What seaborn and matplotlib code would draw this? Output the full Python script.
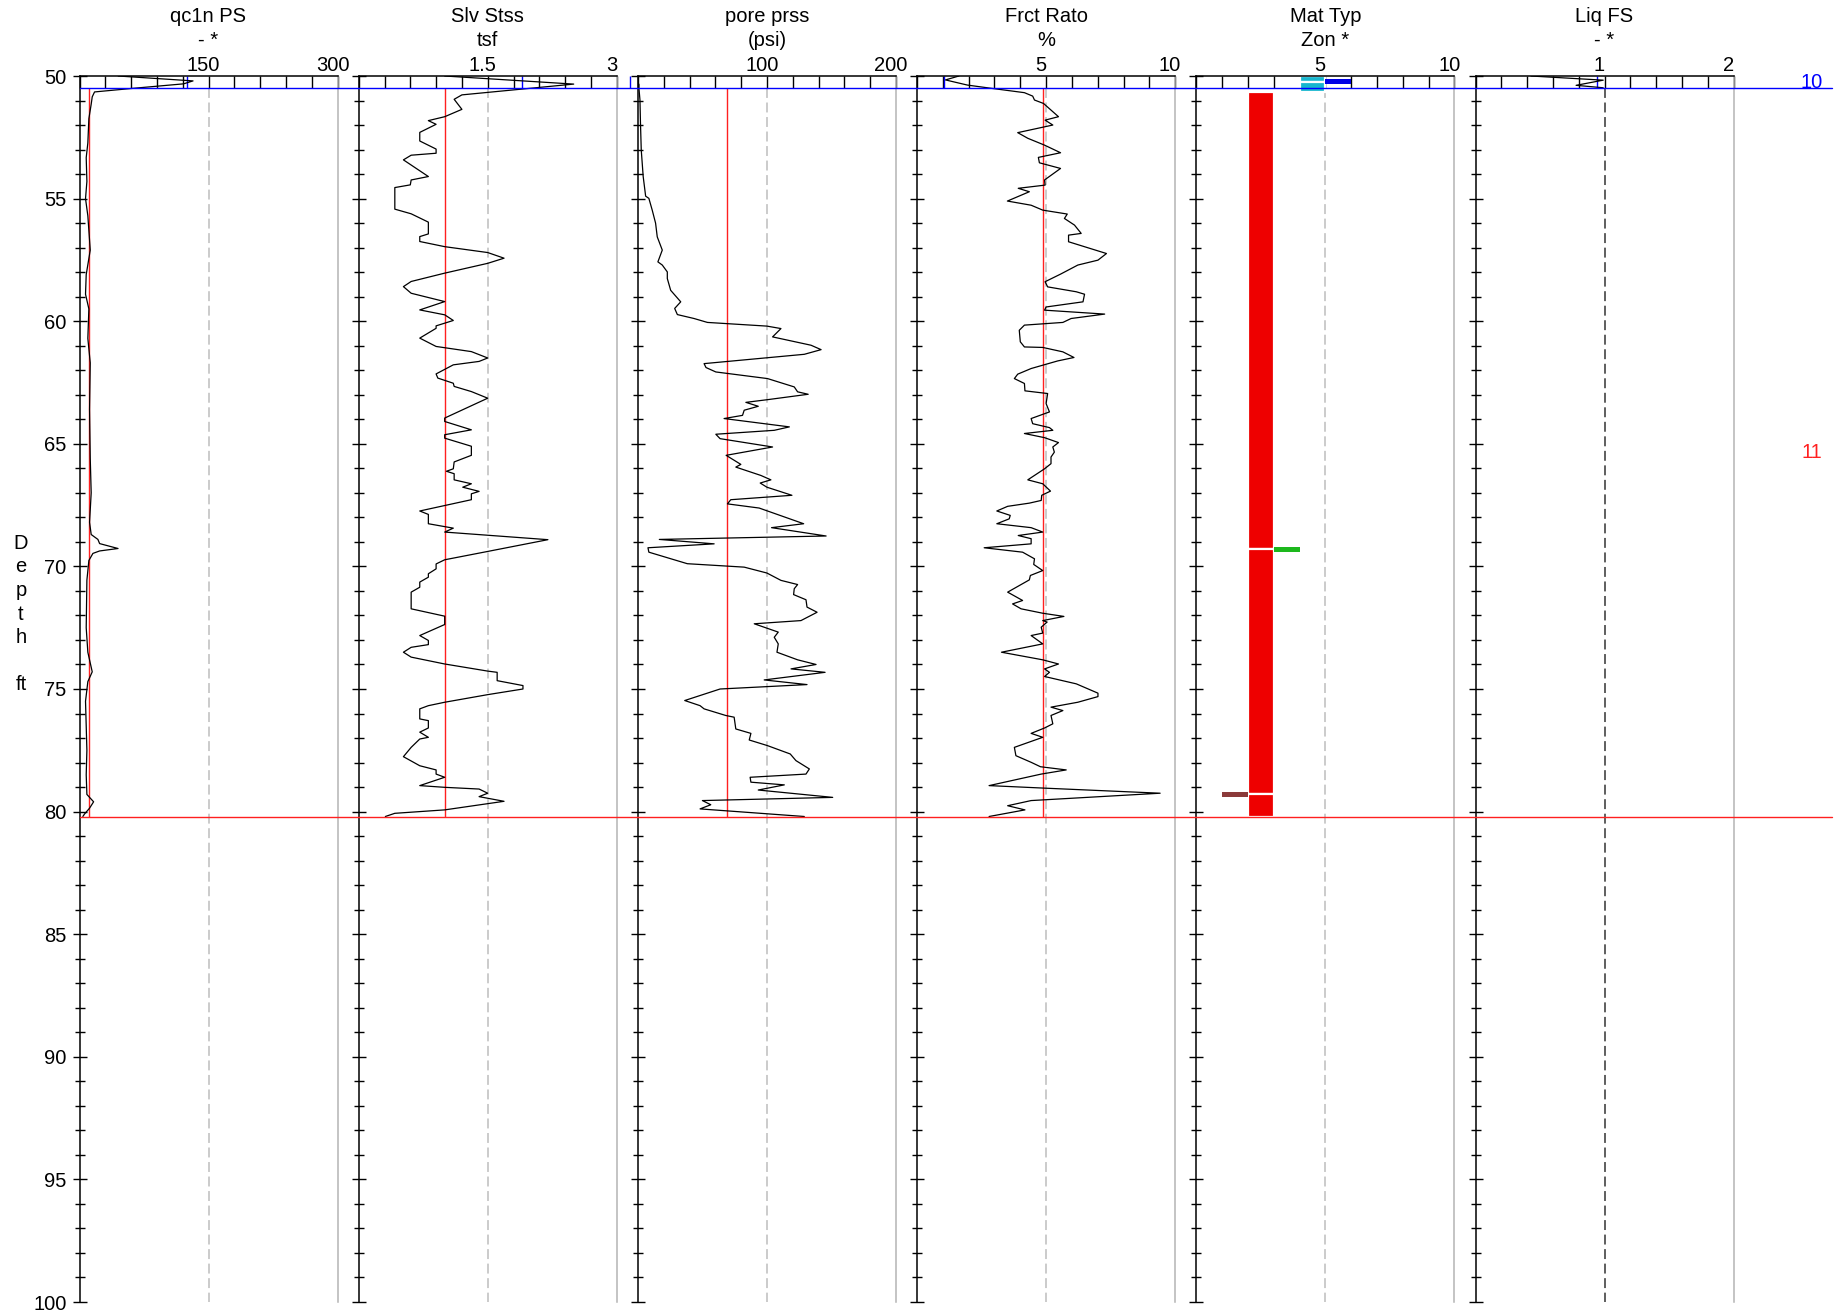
import numpy as np
import pandas as pd
import matplotlib
matplotlib.use("Agg")
import matplotlib.pyplot as plt
import seaborn as sns
from matplotlib.lines import Line2D
from matplotlib.transforms import ScaledTranslation, blended_transform_factory

# ---------------- data ----------------
titles = ["qc1n PS", "Slv Stss", "pore prss", "Frct Rato", "Mat Typ", "Liq FS"]
units = ["- *", "tsf", "(psi)", "%", "Zon *", "- *"]
x_max = [300, 3, 200, 10, 10, 2]
mid_labels = ["150", "1.5", "100", "5", "5", "1"]
max_labels = ["300", "3", "200", "10", "10", "2"]

# (depth ft, value)
qc1n = [(50.0, 45), (50.2, 132), (50.32, 121), (50.51, 60), (50.65, 17.5), (50.85, 14.8),
        (51.15, 13.6), (51.74, 10.9), (52.73, 9.7), (53.33, 7.8), (54.3, 8.6), (55.0, 7.0),
        (55.7, 9.7), (57.1, 12.5), (58.1, 7.8), (58.9, 7.0), (59.5, 10.9), (60.7, 9.7),
        (61.7, 12.5), (63.6, 11.7), (65.6, 12.5), (67.0, 13.6), (68.2, 11.7), (68.7, 13.6),
        (68.9, 21.4), (69.07, 23.4), (69.27, 44.8), (69.37, 23.4), (69.47, 15.6), (69.76, 10.9),
        (70.56, 8.6), (72.5, 7.8), (73.5, 9.7), (74.3, 14.8), (74.7, 9.7), (75.5, 7.0),
        (77.5, 8.6), (78.5, 7.8), (79.3, 8.6), (79.6, 16.4), (79.86, 11.7), (80.1, 5.8), (80.2, 3.9)]

slv = [(50.0, 1.0), (50.33, 2.5), (50.77, 1.2), (50.95, 1.11), (51.36, 1.2), (51.66, 1.0),
       (51.82, 0.81), (51.97, 0.9), (52.3, 0.71), (52.65, 0.71), (52.98, 0.9), (53.15, 0.9),
       (53.23, 0.61), (53.42, 0.52), (54.1, 0.81), (54.24, 0.61), (54.44, 0.6), (54.55, 0.42),
       (55.43, 0.42), (55.62, 0.61), (55.96, 0.81), (56.44, 0.81), (56.55, 0.71), (56.75, 0.71),
       (56.96, 1.0), (57.2, 1.5), (57.43, 1.69), (57.64, 1.5), (58.04, 1.0), (58.38, 0.61),
       (58.59, 0.52), (58.86, 0.61), (59.2, 1.0), (59.54, 0.71), (59.74, 1.0), (59.97, 1.1),
       (60.19, 0.9), (60.29, 0.9), (60.69, 0.71), (61.03, 0.9), (61.24, 1.31), (61.5, 1.5),
       (61.64, 1.4), (61.78, 1.1), (62.15, 0.9), (62.32, 0.92), (62.53, 1.1), (62.66, 1.11),
       (62.87, 1.31), (63.14, 1.5), (63.95, 1.0), (64.09, 1.0), (64.43, 1.31), (64.63, 1.0),
       (64.77, 1.0), (65.1, 1.31), (65.47, 1.31), (65.74, 1.11), (66.02, 1.1), (66.12, 1.02),
       (66.22, 1.11), (66.47, 1.11), (66.63, 1.31), (66.77, 1.21), (66.94, 1.4), (67.04, 1.31),
       (67.28, 1.31), (67.74, 0.71), (67.88, 0.81), (68.26, 0.81), (68.44, 1.1), (68.6, 1.0),
       (68.91, 2.2), (69.39, 1.5), (69.73, 1.0), (69.9, 0.9), (70.1, 0.9), (70.3, 0.81),
       (70.44, 0.81), (70.64, 0.71), (70.85, 0.71), (71.05, 0.61), (71.73, 0.61), (72.03, 1.0),
       (72.37, 1.0), (72.82, 0.71), (73.02, 0.81), (73.19, 0.81), (73.3, 0.61), (73.5, 0.52),
       (73.7, 0.61), (73.98, 1.0), (74.27, 1.5), (74.32, 1.61), (74.66, 1.61), (74.86, 1.91),
       (75.0, 1.91), (75.23, 1.5), (75.54, 1.0), (75.68, 0.81), (75.81, 0.71), (76.22, 0.71),
       (76.29, 0.81), (76.59, 0.81), (76.76, 0.71), (76.97, 0.81), (77.04, 0.71), (77.38, 0.61),
       (77.76, 0.52), (78.13, 0.71), (78.3, 0.9), (78.47, 0.9), (78.6, 1.0), (78.94, 0.71),
       (79.01, 1.0), (79.08, 1.4), (79.25, 1.5), (79.39, 1.4), (79.58, 1.69), (79.93, 1.0),
       (80.07, 0.42), (80.2, 0.31)]

pore = [(50.0, 0.5), (50.2, -0.5), (50.35, 0.8), (50.5, 0.8), (50.98, 1.6), (51.93, 2.0),
        (53.02, 2.6), (54.1, 4.1), (54.9, 6.0), (54.99, 8.5), (55.47, 11.1), (56.0, 13.7),
        (56.56, 15.0), (57.1, 18.9), (57.58, 15.5), (57.71, 18.9), (57.99, 22.8), (58.26, 22.8),
        (58.74, 25.4), (59.21, 33.2), (59.48, 28.5), (59.73, 30.6), (59.89, 43.5), (60.05, 53.9),
        (60.2, 100), (60.3, 110.9), (60.64, 104.4), (60.98, 134.2), (61.16, 142), (61.35, 129),
        (61.73, 51.3), (61.89, 52.8), (62.07, 60.4), (62.34, 100.5), (62.68, 121.2), (62.88, 123.8),
        (62.98, 132), (63.2, 100.5), (63.31, 83.7), (63.47, 93.3), (63.63, 82.4), (63.84, 81.1),
        (63.97, 66.8), (64.31, 117.4), (64.45, 105.7), (64.61, 60.4), (64.79, 63.7), (65.13, 104.4),
        (65.47, 68.4), (65.84, 79.8), (65.95, 75.9), (66.29, 95.3), (66.47, 103.1), (66.6, 94.8),
        (66.77, 100), (67.1, 119.4), (67.28, 72), (67.45, 69.4), (67.62, 94), (68.26, 128.5),
        (68.42, 103.6), (68.76, 145.9), (68.9, 16.6), (69.08, 59.1), (69.24, 7.8), (69.42, 8.5),
        (69.89, 38.3), (70.03, 82.4), (70.27, 100), (70.57, 110.9), (70.74, 123.8), (70.91, 121.2),
        (71.15, 120.7), (71.36, 130.3), (71.66, 131.1), (71.87, 138.9), (72.21, 126.4), (72.34, 90.2),
        (72.68, 108.8), (72.89, 105.7), (73.16, 108.8), (73.5, 107.8), (73.81, 123.8), (74.0, 138.1),
        (74.18, 118.7), (74.32, 145.1), (74.63, 97.9), (74.82, 131.1), (75.0, 63.7), (75.47, 36.3),
        (75.68, 48.2), (75.81, 51.3), (76.08, 68.1), (76.15, 74.6), (76.63, 75.9), (76.81, 87.6),
        (77.08, 86.3), (77.31, 100.5), (77.65, 118.1), (77.92, 122.5), (78.26, 132.9), (78.47, 130.3),
        (78.6, 87), (78.8, 87.6), (78.91, 113.5), (79.12, 93.3), (79.42, 151), (79.55, 50),
        (79.72, 56.5), (79.89, 48.2), (80.2, 129)]

frct = [(50.0, 1.62), (50.16, 1.1), (50.37, 1.95), (50.5, 2.86), (50.68, 4.16), (50.82, 4.48),
        (50.98, 4.55), (51.12, 4.9), (51.66, 5.48), (51.8, 4.96), (52.0, 5.26), (52.31, 3.9),
        (52.54, 4.29), (52.82, 4.94), (53.13, 5.56), (53.32, 4.7), (53.54, 4.74), (53.77, 5.56),
        (54.24, 4.94), (54.45, 4.96), (54.58, 3.92), (54.72, 4.35), (55.1, 3.5), (55.27, 4.42),
        (55.47, 4.87), (55.63, 5.82), (55.81, 5.71), (56.08, 6.1), (56.42, 6.36), (56.49, 5.87),
        (56.76, 5.87), (57.24, 7.34), (57.51, 7.01), (57.71, 6.23), (58.08, 5.56), (58.39, 4.96),
        (58.6, 5.06), (58.8, 6.17), (58.9, 6.49), (59.21, 6.43), (59.42, 5.0), (59.55, 4.94),
        (59.71, 7.27), (59.89, 5.97), (60.05, 5.65), (60.16, 4.16), (60.37, 3.96), (60.84, 4.0),
        (61.05, 4.16), (61.07, 4.87), (61.25, 5.65), (61.48, 6.08), (61.62, 5.45), (61.93, 4.42),
        (62.16, 3.9), (62.34, 3.77), (62.54, 4.16), (62.84, 4.18), (62.95, 5.06), (63.36, 5.0),
        (63.7, 5.13), (63.97, 4.42), (64.18, 4.48), (64.34, 5.13), (64.45, 5.26), (64.58, 4.16),
        (64.75, 4.94), (64.95, 5.48), (65.13, 5.26), (65.34, 5.32), (65.54, 5.19), (65.81, 5.19),
        (66.02, 4.94), (66.47, 4.29), (66.63, 4.87), (66.93, 5.17), (67.1, 4.83), (67.31, 4.81),
        (67.42, 4.35), (67.55, 3.51), (67.74, 3.09), (67.92, 3.61), (68.06, 3.57), (68.26, 3.09),
        (68.42, 4.42), (68.6, 4.87), (68.74, 3.92), (68.87, 4.42), (69.08, 4.42), (69.24, 2.6),
        (69.42, 4.09), (69.69, 4.55), (69.92, 4.52), (70.17, 4.87), (70.37, 4.39), (70.55, 4.35),
        (70.74, 4.03), (71.05, 3.51), (71.39, 4.09), (71.53, 3.7), (71.73, 4.03), (71.91, 4.87),
        (72.04, 5.69), (72.21, 4.87), (72.27, 5.04), (72.48, 4.81), (72.72, 4.87), (72.82, 4.42),
        (73.16, 4.87), (73.5, 3.27), (73.81, 4.87), (73.98, 5.48), (74.18, 4.94), (74.32, 5.13),
        (74.49, 4.94), (74.79, 6.17), (75.17, 7.01), (75.31, 7.01), (75.54, 6.23), (75.74, 5.19),
        (75.88, 5.65), (76.08, 5.19), (76.42, 5.26), (76.59, 4.94), (76.81, 4.42), (76.97, 4.87),
        (77.38, 3.77), (77.72, 3.83), (77.99, 4.42), (78.17, 4.78), (78.3, 5.78), (78.47, 4.81),
        (78.94, 2.79), (79.04, 4.87), (79.25, 9.42), (79.55, 4.42), (79.76, 3.51), (79.93, 4.18),
        (80.2, 2.79)]

liq_fs = [(50.0, 0.43), (50.17, 0.99), (50.38, 0.78), (50.48, 0.99)]

# soil behaviour zones: (top, bottom, zone)
zone_layers = [(50.0, 50.23, 5), (50.23, 50.65, 5), (50.65, 69.3, 3), (69.3, 79.3, 3), (79.3, 80.2, 3)]
# thin zone marks: (depth, zone)
zone_marks = [(50.23, 6), (69.3, 4), (79.3, 2)]
zone_colors = {2: "#8B3A3A", 3: "#EE0000", 4: "#1DB81D", 5: "#17B6CE", 6: "#0000E6"}

# layers
layer_names = ["10", "11"]
layer_tops = [50.0, 50.5]
layer_bots = [50.5, 80.2]
layer_colors = ["#0000FF", "#FF2020"]
# per-panel layer averages (None: not drawn)
layer_avgs = [[125, 10.5], [1.9, 1.0], [-6, 69], [1.06, 4.88], [None, None], [0.94, None]]

curves = [qc1n, slv, pore, frct, None, liq_fs]

# ---------------- figure ----------------
sns.set_theme(style="white", rc={"text.color": "black", "xtick.color": "black",
                                 "ytick.color": "black", "axes.edgecolor": "black"})
plt.rcParams["font.family"] = ["Liberation Sans", "DejaVu Sans"]

W, H = 1843, 1312
fig = plt.figure(figsize=(W / 100, H / 100), dpi=100)
left0, pitch, pw = 79.5, 279.2, 258.0
top_px, bot_px = 76.0, 1302.0
ah = bot_px - top_px
FS = 14.5

axes = []
for i in range(6):
    ax = fig.add_axes([(left0 + pitch * i) / W, 1 - bot_px / H, pw / W, ah / H])
    axes.append(ax)
    xm = x_max[i]
    ax.set_facecolor("white")

    # mid dashed line
    ax.vlines(xm / 2, 50.5, 100, colors=("#333333" if i == 5 else "#BDBDBD"),
              linestyles=(0, (6.5, 3.0)), lw=1.1, zorder=1.5)

    # curves
    if curves[i] is not None:
        df = pd.DataFrame(curves[i], columns=["depth", "val"])
        sns.lineplot(data=df, x="val", y="depth", sort=False, estimator=None,
                     color="black", lw=0.9, ax=ax, zorder=3)

    # zone bars
    if i == 4:
        for (t, b, z) in zone_layers:
            ax.barh(y=(t + b) / 2, width=1, height=b - t, left=z - 1, color=zone_colors[z],
                    edgecolor="white", linewidth=1.6, zorder=2)
        for (d, z) in zone_marks:
            ax.barh(y=d, width=1, height=0.19, left=z - 1, color=zone_colors[z],
                    linewidth=0, zorder=2.2)

    # layer averages
    for k in range(len(layer_names)):
        v = layer_avgs[i][k]
        if v is not None:
            ax.vlines(v, layer_tops[k], layer_bots[k], colors=layer_colors[k], lw=1.0,
                      zorder=2.5, clip_on=False)

    ax.set_xlabel("")
    ax.set_ylabel("")
    ax.set_xlim(0, xm)
    ax.set_ylim(100, 50)

    # x ticks on top
    ax.xaxis.tick_top()
    xt = np.linspace(0, xm, 11)
    ax.set_xticks(xt)
    labs = [""] * 11
    labs[5] = mid_labels[i]
    labs[10] = max_labels[i]
    ax.set_xticklabels(labs)
    ax.tick_params(axis="x", which="both", direction="in", length=8.8, width=1.0,
                   top=True, bottom=False, labeltop=True, labelbottom=False,
                   pad=1.0, labelsize=FS, colors="black")
    off = ScaledTranslation(-5 / 100, 0, fig.dpi_scale_trans)
    for lab in ax.get_xticklabels():
        lab.set_transform(lab.get_transform() + off)

    # y ticks
    ax.set_yticks(np.arange(50, 101, 5))
    ax.set_yticks(np.arange(50, 101, 1), minor=True)
    ax.tick_params(axis="y", which="major", direction="inout", length=9.5, width=1.0,
                   left=True, right=False, pad=4.5, labelsize=FS, labelleft=(i == 0))
    ax.tick_params(axis="y", which="minor", direction="inout", length=7.0, width=1.0,
                   left=True, right=False)
    if i == 0:
        ax.set_yticklabels([str(v) for v in range(50, 101, 5)])

    for s in ["top", "left"]:
        ax.spines[s].set_color("black")
        ax.spines[s].set_linewidth(1.1)
    ax.spines["right"].set_color("#B4B4B4")
    ax.spines["right"].set_linewidth(1.1)
    ax.spines["bottom"].set_visible(False)

    # titles
    ax.text(0.5, 1 + (top_px - 16.5) / ah, titles[i], transform=ax.transAxes,
            ha="center", va="center", fontsize=FS)
    ax.text(0.5, 1 + (top_px - 40) / ah, units[i], transform=ax.transAxes,
            ha="center", va="center", fontsize=FS)

# layer boundary lines across all tracks (on top of every axes), and layer names at the right
ax0 = axes[0]
trf = blended_transform_factory(fig.transFigure, ax0.transData)
x_start = left0 / W
x_end = 1832 / W
for k in range(len(layer_names)):
    fig.add_artist(Line2D([x_start, x_end], [layer_bots[k], layer_bots[k]], transform=trf,
                          color=layer_colors[k], lw=1.0, zorder=10))
for k in range(len(layer_names)):
    fig.text(1812 / W, (layer_tops[k] + layer_bots[k]) / 2, layer_names[k], transform=trf,
             color=layer_colors[k], ha="center", va="center", fontsize=FS, zorder=11)

fig.text(21 / W, 1 - 614 / H, "D\ne\np\nt\nh\n\nft", ha="center", va="center",
         fontsize=FS, linespacing=1.3)

fig.savefig("out.png", dpi=100, facecolor="white")
